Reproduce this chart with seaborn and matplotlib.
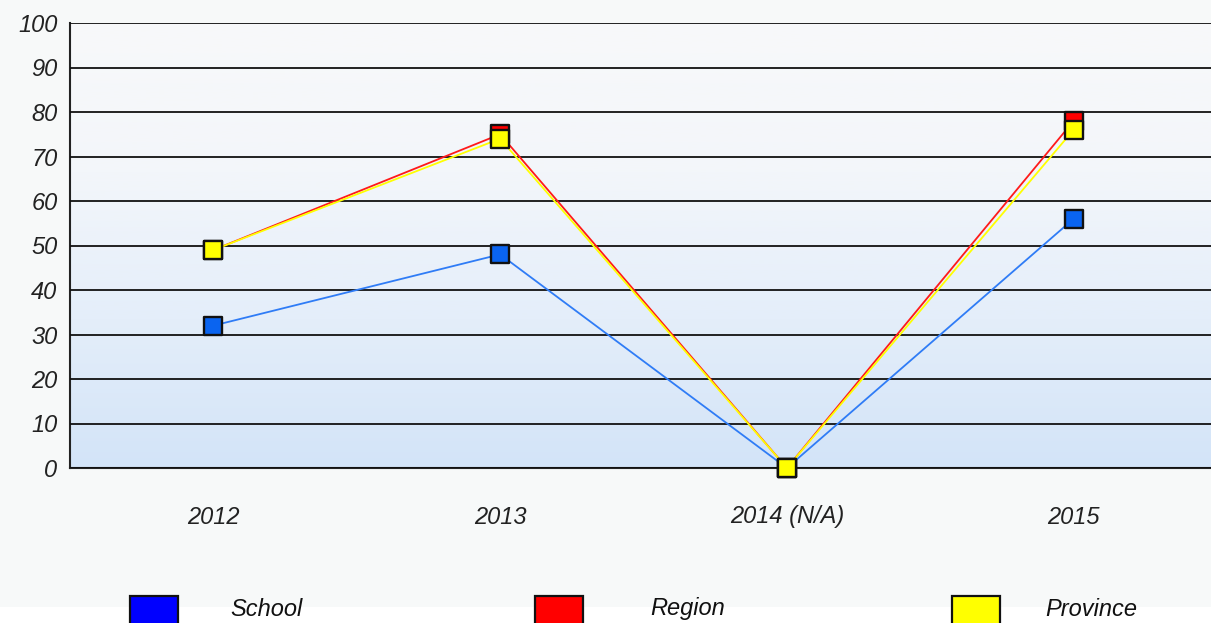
import numpy as np
import pandas as pd
import matplotlib
matplotlib.use("Agg")
import matplotlib.pyplot as plt
from matplotlib.colors import LinearSegmentedColormap
from matplotlib.patches import Rectangle
import seaborn as sns

years = ["2012", "2013", "2014 (N/A)", "2015"]
school = [32, 48, 0, 56]
region = [49, 75, 0, 78]
province = [49, 74, 0, 76]
series_names = ["School", "Region", "Province"]

sns.set_theme(style="white")
plt.rcParams["font.family"] = ["Liberation Sans", "DejaVu Sans"]

df = pd.DataFrame({
    "year": years * 3,
    "value": school + region + province,
    "series": np.repeat(series_names, len(years)),
})
df["pos"] = np.tile(np.arange(len(years)), 3)

fig = plt.figure(figsize=(12.11, 6.23), dpi=100, facecolor="#f7f9f9")
ax = fig.add_axes([70 / 1211, 1 - 468 / 623, 1147 / 1211, 445 / 623])
ax.set_facecolor("#f7f9f9")

# vertical background gradient of the plot area: near white at top, light blue at bottom
grad = LinearSegmentedColormap.from_list("bg", ["#f8f9fa", "#f3f6fa", "#e4eefa", "#d3e4f8"])
ax.imshow(np.linspace(0, 1, 256).reshape(-1, 1), cmap=grad, aspect="auto",
          extent=(-0.5, 3.5, 0, 100), zorder=0, origin="upper")

line_colors = {"School": "#2f7cf6", "Region": "#ff1a1a", "Province": "#ffff00"}
marker_colors = {"School": "#0a64f0", "Region": "#ff0000", "Province": "#ffff00"}

for name in series_names:
    sub = df[df["series"] == name]
    sns.lineplot(data=sub, x="pos", y="value", ax=ax, color=line_colors[name],
                 linewidth=1.3, zorder=3, legend=False, estimator=None)
for name in series_names:
    sub = df[df["series"] == name]
    ax.scatter(sub["pos"], sub["value"], marker="s", s=165,
               facecolor=marker_colors[name], edgecolor="#111111",
               linewidth=1.7, zorder=4, clip_on=False)

ax.set_xlim(-0.5, 3.5)
ax.set_ylim(0, 100)
ax.set_yticks(range(0, 101, 10))
ax.set_xticks(range(len(years)))
ax.set_xticklabels(years)
ax.set_xlabel("")
ax.set_ylabel("")
ax.grid(axis="y", color="#111111", linewidth=1.3, zorder=1)
ax.set_axisbelow(False)
for g in ax.get_ygridlines():
    g.set_zorder(1)
for s in ["top", "right"]:
    ax.spines[s].set_visible(False)
for s in ["left", "bottom"]:
    ax.spines[s].set_color("#222222")
    ax.spines[s].set_linewidth(1.5)
    ax.spines[s].set_zorder(2)
ax.tick_params(axis="both", length=0, labelsize=17, labelcolor="#222222")
ax.tick_params(axis="y", pad=9)
ax.tick_params(axis="x", pad=27)
for lbl in ax.get_xticklabels() + ax.get_yticklabels():
    lbl.set_fontstyle("italic")

# white strip along the bottom edge
fig.patches.append(Rectangle((0, 0), 1, 16 / 623, transform=fig.transFigure,
                             facecolor="white", edgecolor="none", zorder=0))

# legend swatches and labels
legend_x = [130, 535, 952]
text_x = [230, 650, 1045]
legend_fill = {"School": "#0000ff", "Region": "#ff0000", "Province": "#ffff00"}
for name, lx, tx in zip(series_names, legend_x, text_x):
    fig.patches.append(Rectangle((lx / 1211, -12 / 623), 48 / 1211, 39 / 623,
                                 transform=fig.transFigure, facecolor=legend_fill[name],
                                 edgecolor="#111111", linewidth=1.6, zorder=2))
    fig.text(tx / 1211, 1 - 609 / 623, name, fontsize=17, fontstyle="italic",
             color="#111111", ha="left", va="center")

fig.savefig("out.png", dpi=100, facecolor=fig.get_facecolor())
